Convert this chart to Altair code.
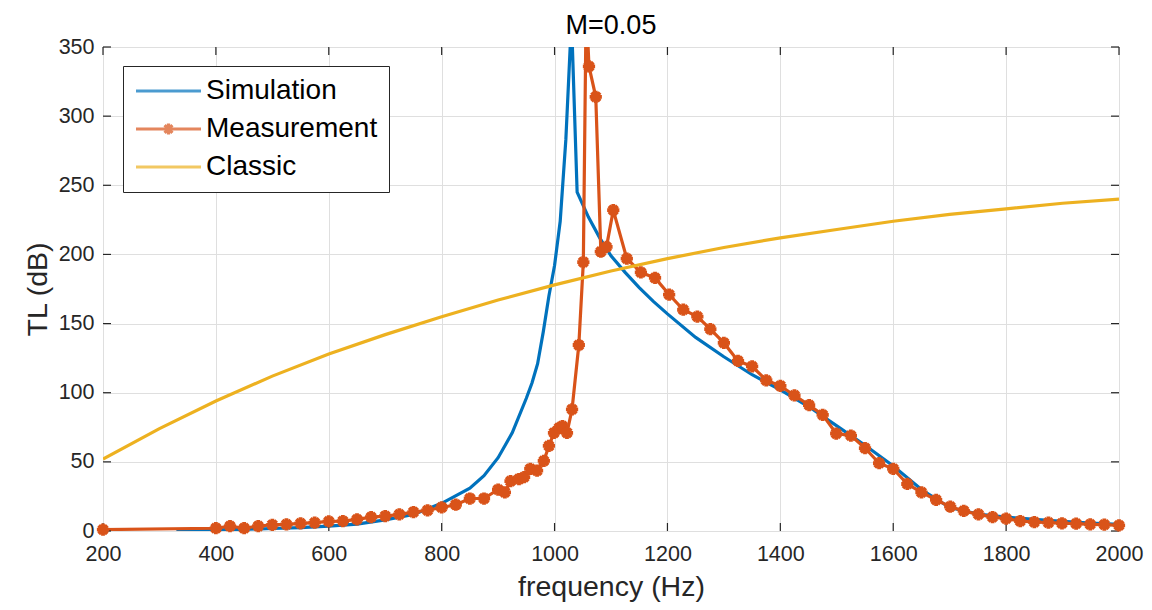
import altair as alt
import pandas as pd

# ---------------- data ----------------
series_names = ["Simulation", "Measurement", "Classic"]
series_colors = ["#0072BD", "#D95319", "#EDB120"]

sim_freq = [330, 400, 450, 500, 550, 600, 650, 700, 750, 800, 850, 875, 900, 925,
            950, 960, 970, 980, 990, 1000, 1010, 1020, 1030, 1040, 1050, 1060, 1080,
            1100, 1125, 1150, 1175, 1200, 1250, 1300, 1350, 1400, 1450, 1500, 1550,
            1600, 1650, 1700, 1750, 1800, 1850, 1900, 1950, 2000]
sim_tl = [0.3, 0.8, 1.2, 1.8, 2.5, 3.5, 5, 8, 12, 20, 31, 40, 53, 71,
          96, 107, 121, 144, 170, 192, 224, 283, 370, 245, 236, 227, 212,
          199, 187, 176, 166, 157, 140, 126, 113, 102, 90, 76, 62,
          47, 30, 17, 12.3, 10, 8.5, 7, 5.8, 4.8]

meas_freq = [200, 400, 425, 450, 475, 500, 525, 550, 575, 600, 625, 650, 675, 700,
             725, 750, 775, 800, 825, 850, 875, 900, 912, 922, 937, 946, 957, 969,
             981, 990, 999, 1008, 1014, 1022, 1031, 1043, 1051, 1056, 1061, 1073,
             1082, 1092, 1104, 1128, 1153, 1178, 1203, 1228, 1253, 1276, 1300, 1325,
             1350, 1375, 1400, 1425, 1451, 1475, 1499, 1525, 1550, 1575, 1600, 1625,
             1650, 1676, 1701, 1725, 1751, 1776, 1800, 1825, 1850, 1875, 1899, 1924,
             1949, 1974, 2000]
meas_tl = [1, 2, 3.5, 2, 3.5, 4.5, 4.8, 5.5, 6, 7, 7.2, 8.4, 10, 10.8,
           12, 13.7, 15, 17, 19, 23.5, 23.5, 30, 28, 36, 37.6, 39, 45, 43.6,
           50.7, 61.5, 71, 74.6, 75.8, 71, 88, 134.5, 194.5, 380, 336, 314,
           202, 205.5, 232, 197, 187, 183, 171, 160, 155, 146, 136, 123,
           119, 109, 105, 98, 91, 84, 70.5, 69, 60, 49, 45, 34,
           28, 22.5, 17.6, 14.5, 12, 10, 9, 7.2, 6.5, 6, 5.6, 5.3,
           4.8, 4.6, 4.1]

classic_freq = [200, 300, 400, 500, 600, 700, 800, 900, 1000, 1100, 1200, 1300,
                1400, 1500, 1600, 1700, 1800, 1900, 2000]
classic_tl = [52, 74, 94, 112, 128, 142, 155, 167, 178, 188, 197, 205,
              212, 218, 224, 229, 233, 237, 240]

x_ticks = [200, 400, 600, 800, 1000, 1200, 1400, 1600, 1800, 2000]
y_ticks = [0, 50, 100, 150, 200, 250, 300, 350]

rows = []
for name, fs, vs in [("Simulation", sim_freq, sim_tl),
                     ("Measurement", meas_freq, meas_tl),
                     ("Classic", classic_freq, classic_tl)]:
    for f, v in zip(fs, vs):
        rows.append({"series": name, "freq": f, "tl": v})
df = pd.DataFrame(rows)
xtick_df = pd.DataFrame({"freq": x_ticks})
ytick_df = pd.DataFrame({"tl": y_ticks})

# ---------------- style ----------------
W, H = 1016, 484
TICK = 8
FONT = "Liberation Sans"
INK = "#262626"
GRID = "#dfdfdf"
ASTERISK = "M-1,0L1,0M0,-1L0,1M-0.7,-0.7L0.7,0.7M-0.7,0.7L0.7,-0.7"
LEG_LINE = "M-1,0L1,0"
LEG_MEAS = ("M-1,0L1,0M-0.16,0L0.16,0M0,-0.17L0,0.17"
            "M-0.12,-0.12L0.12,0.12M-0.12,0.12L0.12,-0.12")

x_scale = alt.Scale(domain=[200, 2000], nice=False, zero=False)
y_scale = alt.Scale(domain=[0, 350], nice=False)

# axes with labels + grid (ticks are drawn inward as separate rules)
x_axis = alt.Axis(
    title="frequency (Hz)", values=x_ticks, format="d", grid=True,
    gridColor=GRID, gridWidth=1, domain=False, ticks=False,
    labelFontSize=21.5, labelFont=FONT, labelColor=INK, labelPadding=12,
    titleFont=FONT, titleFontSize=28.5, titleFontWeight="normal",
    titleColor=INK, titlePadding=8, labelFlush=False,
)
y_axis = alt.Axis(
    title="TL (dB)", values=y_ticks, grid=True, gridColor=GRID, gridWidth=1,
    domain=False, ticks=False, labelFontSize=21.5, labelFont=FONT,
    labelColor=INK, labelPadding=9, titleFont=FONT, titleFontSize=28.5,
    titleFontWeight="normal", titleColor=INK, titlePadding=6, labelFlush=False,
)

X = alt.X("freq:Q", scale=x_scale, axis=x_axis)
Y = alt.Y("tl:Q", scale=y_scale, axis=y_axis)

legend_props = dict(
    title=None, orient="none", legendX=20, legendY=19, direction="vertical",
    fillColor="white", strokeColor=INK, padding=11,
    symbolSize=4225, symbolStrokeWidth=3.2, symbolOffset=0, clipHeight=28,
    rowPadding=10, labelOffset=3, labelFont=FONT, labelFontSize=28,
    labelColor="black", labelLimit=400,
)

color_scale = alt.Scale(domain=series_names, range=series_colors)

base = alt.Chart(df)

lines = base.mark_line(strokeWidth=3.2, clip=True).encode(
    x=X, y=Y,
    color=alt.Color("series:N", scale=color_scale,
                    legend=alt.Legend(symbolType="stroke", **legend_props)),
)

points = base.transform_filter(
    (alt.datum.series == "Measurement") & (alt.datum.tl <= 350)
).mark_point(shape=ASTERISK, filled=False, size=150, strokeWidth=3.8,
             opacity=1, color=series_colors[1]).encode(x=X, y=Y)

# empty layer that carries the legend symbol shapes
legend_layer = base.transform_filter("false").mark_point(
    filled=False, strokeWidth=3.2).encode(
    x=X, y=Y,
    color=alt.Color("series:N", scale=color_scale,
                    legend=alt.Legend(**legend_props)),
    shape=alt.Shape("series:N",
                    scale=alt.Scale(domain=series_names,
                                    range=[LEG_LINE, LEG_MEAS, LEG_LINE]),
                    legend=alt.Legend(**legend_props)),
)

# inward-pointing ticks on all four frame edges (MATLAB box style)
tick_style = dict(color=INK, strokeWidth=1.2)
ticks_bottom = alt.Chart(xtick_df).mark_rule(**tick_style).encode(
    x=X, y=alt.value(H), y2=alt.value(H - TICK))
ticks_top = alt.Chart(xtick_df).mark_rule(**tick_style).encode(
    x=X, y=alt.value(0), y2=alt.value(TICK))
ticks_left = alt.Chart(ytick_df).mark_rule(**tick_style).encode(
    y=Y, x=alt.value(0), x2=alt.value(TICK))
ticks_right = alt.Chart(ytick_df).mark_rule(**tick_style).encode(
    y=Y, x=alt.value(W), x2=alt.value(W - TICK))

chart = alt.layer(
    lines, ticks_bottom, ticks_top, ticks_left, ticks_right,
    points, legend_layer
).properties(
    width=W, height=H,
    title=alt.TitleParams("M=0.05", font=FONT, fontSize=27, fontWeight="normal",
                          color="black", anchor="middle", frame="group",
                          offset=0, dy=4),
    autosize=alt.AutoSizeParams(type="none"),
    padding={"left": 95, "top": 39, "right": 25, "bottom": 71},
).configure_view(stroke=INK, strokeWidth=1.2).configure_legend(
    strokeWidth=1).configure(background="white")

chart.save("out.html", embed_options={"renderer": "svg", "actions": False})
